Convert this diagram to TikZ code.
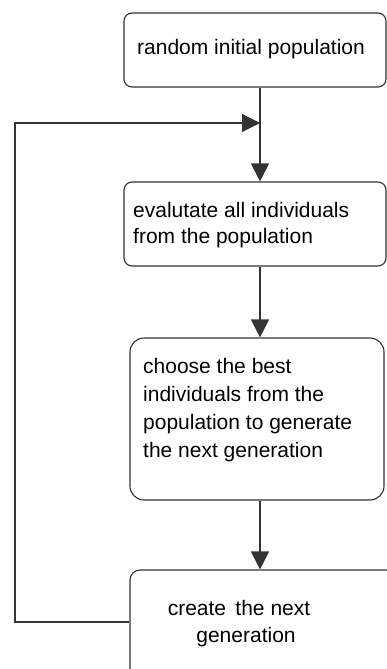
\documentclass[tikz,border=0pt]{standalone}
\usepackage{fontspec}
\setmainfont{Liberation Sans}
\usetikzlibrary{arrows.meta}
\begin{document}
\begin{tikzpicture}[x=1pt,y=-1pt,
  box/.style={draw=black!80,line width=1.1pt,rectangle,inner sep=0pt},
  lbl/.style={anchor=base west,inner sep=0pt,font=\fontsize{21}{27}\selectfont},
  clbl/.style={anchor=base,inner sep=0pt,font=\fontsize{21}{27}\selectfont},
  conn/.style={draw=black!80,line width=1.1pt},
  arr/.style={conn,-{Triangle[length=18pt,width=18pt]}}]
\useasboundingbox (0,0) rectangle (387,669);
\clip (0,0) rectangle (387,669);
\fill[white] (0,0) rectangle (387,669);
% boxes
\node[box,rounded corners=8pt,minimum width=262pt,minimum height=74pt] (b1) at (255,50) {};
\node[box,rounded corners=8pt,minimum width=262pt,minimum height=84pt] (b2) at (255,224) {};
\node[box,rounded corners=14pt,minimum width=254pt,minimum height=162pt] (b3) at (257,419) {};
\node[box,rounded corners=10pt,minimum width=270pt,minimum height=130pt] (b4) at (265,635) {};
% texts
\node[lbl] (t1) at (137,55) {random initial population};
\node[lbl] (t2a) at (133,217) {evalutate all individuals};
\node[lbl] (t2b) at (133,243) {from the population};
\node[lbl] (t3a) at (143,373) {choose the best};
\node[lbl] (t3b) at (143,401) {individuals from the};
\node[lbl] (t3c) at (143,429) {population to generate};
\node[lbl] (t3d) at (143,457) {the next generation};
\node[clbl] (t4a) at (239,615) {create\,\ the next};
\node[clbl] (t4b) at (246,642) {generation};
% connectors
\coordinate (ax) at (260,0);
\coordinate (fbL) at (15,622);
\coordinate (fbT) at (15,123);
\draw[arr] (b1.south -| ax) -- (b2.north -| ax);
\draw[arr] (b2.south -| ax) -- (b3.north -| ax);
\draw[arr] (b3.south -| ax) -- (b4.north -| ax);
\draw[arr] (b4.west |- fbL) -- (fbL) -- (fbT) -- (ax |- fbT);
\end{tikzpicture}
\end{document}
